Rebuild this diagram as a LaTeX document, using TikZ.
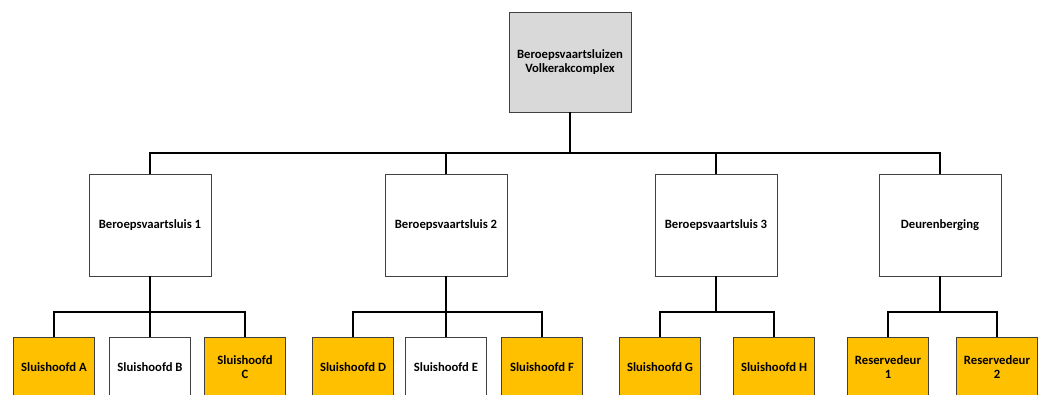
\documentclass[tikz,border=0pt]{standalone}
\usepackage{fontspec}
\setmainfont{Carlito}
\usepackage{tikz}
\definecolor{boxgray}{HTML}{D9D9D9}
\definecolor{boxgold}{HTML}{FFC000}

\begin{document}
\begin{tikzpicture}[
  x=0.75pt, y=-0.75pt,
  every node/.style={font=\bfseries\fontsize{9.5}{11}\selectfont, align=center},
  unit/.style={draw=black!75, line width=0.6pt, rectangle, inner sep=1pt},
  big unit/.style={unit, minimum width=91.5pt, minimum height=75pt},
  mid unit/.style={unit, minimum width=91.5pt, minimum height=76.5pt},
  part/.style={unit, minimum width=61pt, minimum height=45pt},
  trunk/.style={line width=1.8pt},
  branch/.style={line width=1.3pt},
  ]
  \useasboundingbox (0,0) rectangle (1042,394);
  % top
  \node[big unit, fill=boxgray] (top) at (570,62) {Beroepsvaartsluizen\\Volkerakcomplex};
  % second level
  \node[mid unit] (sl1) at (150,225) {Beroepsvaartsluis 1};
  \node[mid unit] (sl2) at (446,225) {Beroepsvaartsluis 2};
  \node[mid unit] (sl3) at (716,225) {Beroepsvaartsluis 3};
  \node[mid unit] (deur) at (940,225) {Deurenberging};
  % third level
  \node[part, fill=boxgold] (shA) at (54,367) {Sluishoofd A};
  \node[part] (shB) at (150,367) {Sluishoofd B};
  \node[part, fill=boxgold] (shC) at (245,367) {Sluishoofd\\C};
  \node[part, fill=boxgold] (shD) at (353,367) {Sluishoofd D};
  \node[part] (shE) at (446,367) {Sluishoofd E};
  \node[part, fill=boxgold] (shF) at (542,367) {Sluishoofd F};
  \node[part, fill=boxgold] (shG) at (660,367) {Sluishoofd G};
  \node[part, fill=boxgold] (shH) at (774,367) {Sluishoofd H};
  \node[part, fill=boxgold] (res1) at (888,367) {Reservedeur\\1};
  \node[part, fill=boxgold] (res2) at (997,367) {Reservedeur\\2};
  % connectors
  \coordinate (j0) at (570,153);
  \draw[trunk] (top.south) -- (j0);
  \foreach \n in {sl1,sl2,sl3,deur}
    \draw[trunk] (j0) -| (\n.north);
  \coordinate (j1) at (150,312);
  \coordinate (j2) at (446,312);
  \coordinate (j3) at (716,312);
  \coordinate (j4) at (940,312);
  \draw[trunk] (sl1.south) -- (j1);
  \draw[trunk] (sl2.south) -- (j2);
  \draw[trunk] (sl3.south) -- (j3);
  \draw[trunk] (deur.south) -- (j4);
  \foreach \n in {shA,shB,shC}
    \draw[branch] (j1) -| (\n.north);
  \foreach \n in {shD,shE,shF}
    \draw[branch] (j2) -| (\n.north);
  \foreach \n in {shG,shH}
    \draw[branch] (j3) -| (\n.north);
  \foreach \n in {res1,res2}
    \draw[branch] (j4) -| (\n.north);
\end{tikzpicture}
\end{document}
